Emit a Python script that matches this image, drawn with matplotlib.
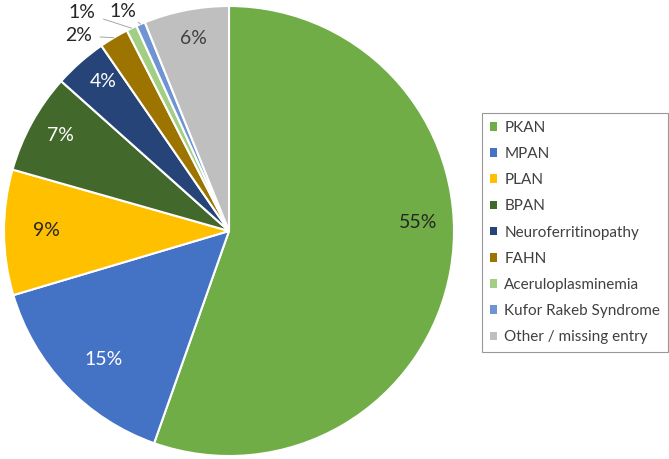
import matplotlib
matplotlib.use("Agg")
import matplotlib.pyplot as plt
import numpy as np
from matplotlib.patches import Patch


CATEGORIES = [
    "PKAN",
    "MPAN",
    "PLAN",
    "BPAN",
    "Neuroferritinopathy",
    "FAHN",
    "Aceruloplasminemia",
    "Kufor Rakeb Syndrome",
    "Other / missing entry",
]
SHARES = [55.4, 15.0, 9.0, 7.2, 3.8, 2.1, 0.75, 0.65, 6.1]

COLORS = ["#70AD47", "#4472C4", "#FFC000", "#43682B", "#264478",
          "#9E7400", "#A3CF84", "#6F93D3", "#BFBFBF"]
LABEL_COLORS = ["#262626", "white", "#262626", "white", "white",
                "#262626", "#262626", "#262626", "#404040"]

# label placement in pie units (radius, angle in degrees)
LABEL_POLAR = [(0.84, 2.5), (0.795, -134.3), (0.813, 180.0), (0.86, 150.3),
               (0.87, 130.0), (1.096, 127.7), (1.172, 123.9), (1.085, 115.7),
               (0.87, 100.6)]
OUTSIDE = [False, False, False, False, False, True, True, True, False]

plt.rcParams["font.family"] = ["Lato", "DejaVu Sans"]

W, H = 669, 459
fig = plt.figure(figsize=(W / 100, H / 100), dpi=100)

cx, cy, r = 229, 231, 225
ax = fig.add_axes([(cx - r) / W, (H - cy - r) / H, 2 * r / W, 2 * r / H])
wedges, _ = ax.pie(
    SHARES,
    colors=COLORS,
    startangle=90,
    counterclock=False,
    radius=1.0,
    wedgeprops=dict(edgecolor="white", linewidth=1.5),
)
ax.set_xlim(-1, 1)
ax.set_ylim(-1, 1)
ax.set_aspect("equal")
ax.axis("off")

total = sum(SHARES)
for w, share, (lr, lang), col, out in zip(wedges, SHARES, LABEL_POLAR, LABEL_COLORS, OUTSIDE):
    txt = f"{round(share / total * 100):.0f}%"
    lx, ly = lr * np.cos(np.radians(lang)), lr * np.sin(np.radians(lang))
    if out:
        mid = np.radians((w.theta1 + w.theta2) / 2)
        ex, ey = np.cos(mid), np.sin(mid)
        ax.annotate(txt, xy=(ex, ey), xytext=(lx, ly), ha="center", va="center",
                    fontsize=14, color=col, annotation_clip=False,
                    arrowprops=dict(arrowstyle="-", color="#A6A6A6", lw=0.7,
                                    shrinkA=4, shrinkB=0))
    else:
        ax.text(lx, ly, txt, ha="center", va="center", fontsize=14, color=col)

handles = [Patch(facecolor=c, edgecolor="none") for c in COLORS]
leg = fig.legend(
    handles,
    CATEGORIES,
    loc="upper left",
    bbox_to_anchor=(482 / W, 1 - 113 / H),
    frameon=True,
    fancybox=False,
    fontsize=11,
    handlelength=0.5,
    handleheight=0.5,
    handletextpad=0.45,
    labelspacing=0.8,
    borderpad=0.5,
    borderaxespad=0,
    labelcolor="#404040",
)
leg.get_frame().set_edgecolor("#7F7F7F")
leg.get_frame().set_linewidth(0.8)

fig.savefig("out.png", dpi=100)
